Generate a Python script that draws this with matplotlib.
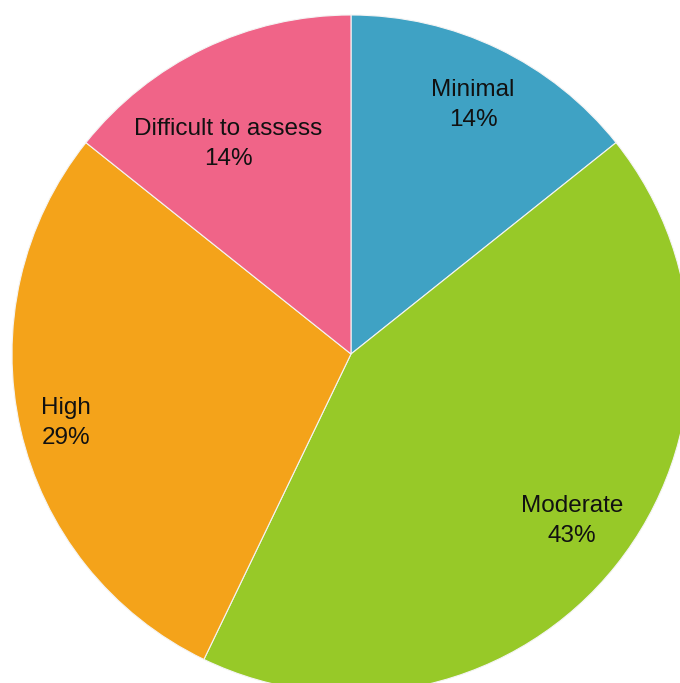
import matplotlib
matplotlib.use('Agg')
import matplotlib.pyplot as plt

categories = ['Minimal', 'Moderate', 'High', 'Difficult to assess']
counts = [1, 3, 2, 1]
colors = ['#3FA2C4', '#97C928', '#F4A31A', '#F06488']

# label centres in axes fraction
label_pos = [(0.6956, 0.8463), (0.8412, 0.2372), (0.0971, 0.3807), (0.3353, 0.7892)]

W, H = 680, 683
cx, cy, R = 351, 354, 339   # pie centre / radius in pixels

fig = plt.figure(figsize=(W / 100, H / 100), dpi=100)
ax = fig.add_axes([0, 0, 1, 1])
ax.axis('off')

wedges, _ = ax.pie(counts, colors=colors, startangle=90, counterclock=False,
                   radius=1, wedgeprops=dict(edgecolor='#f4f4f4', linewidth=0.8))

ax.set_xlim(-cx / R, (W - cx) / R)
ax.set_ylim(-(H - cy) / R, cy / R)
ax.set_aspect('auto')

total = sum(counts)
for name, c, (px, py) in zip(categories, counts, label_pos):
    pct = round(100 * c / total)
    ax.text(px, py, f'{name}\n{pct}%', transform=ax.transAxes, ha='center', va='center',
            fontsize=17.5, family='Liberation Sans', color='#111111', linespacing=1.5)

fig.savefig('out.png', dpi=100)
